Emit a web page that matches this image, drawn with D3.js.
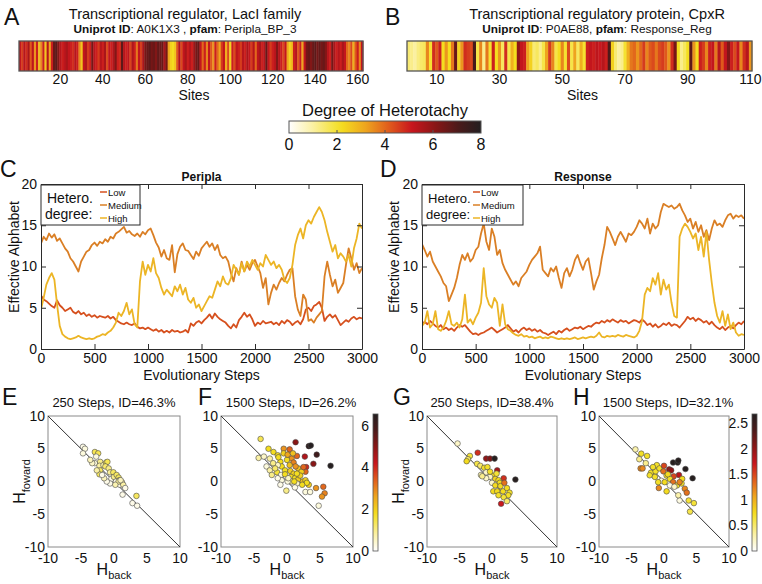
<!DOCTYPE html>
<html><head><meta charset="utf-8">
<script src="https://cdn.jsdelivr.net/npm/d3@7"></script>
<style>body{margin:0;background:#fff}svg{display:block;font-family:"Liberation Sans",Arial,Helvetica,sans-serif}</style>
</head><body><svg id="c" width="762" height="584"></svg>
<script>
// ---------------- DATA ----------------
const sitesA = [5.2,4.6,5.4,4.8,5.6,4.2,5.3,3.4,5.0,2.8, 3.6,5.0,2.6,5.4,3.2,5.0,6.6,6.8,6.2,5.4,
 5.0,5.3,5.6,5.2,5.0,4.8,5.4,5.0,3.6,2.6, 5.2,5.5,4.6,5.0,6.4,5.3,5.0,4.6,5.4,5.0,
 5.6,4.4,5.2,5.0,5.5,6.2,5.0,4.8,6.8,5.4, 5.0,5.3,4.5,5.5,5.0,3.8,5.2,4.6,5.6,6.4,
 6.6,6.8,6.4,6.6,6.2,6.7,6.5,6.6,5.6,6.4, 3.2,2.4,2.2,2.6,4.2,5.4,4.4,5.2,5.6,5.0,
 5.4,5.0,5.8,6.4,6.6,5.2,4.0,5.0,3.6,5.2, 4.2,3.4,5.0,4.0,3.2,4.6,5.2,3.0,4.4,2.4,
 5.0,4.4,5.3,5.0,4.6,5.4,5.0,5.6,5.2,4.6, 5.4,4.0,5.3,5.6,5.0,5.4,6.6,5.2,4.6,5.0,
 5.3,6.2,5.4,5.0,4.4,5.2,3.2,2.4,2.8,5.0, 5.4,4.2,5.0,3.2,5.2,6.4,6.6,6.2,6.6,6.8,
 6.4,6.7,6.4,6.6,6.2,5.4,5.0,6.4,5.6,5.0, 5.4,5.0,5.6,5.2,4.0,3.6,4.4,3.0,4.2,5.0, 3.6,5.2];
const sitesB = [1.4,1.2,1.0,1.3,1.5,1.6,3.6,2.0,4.8,4.2, 5.0,2.2,3.4,2.2,3.8,6.6,2.4,3.4,4.8,4.6,
 4.4,7.2,1.8,3.6,1.2,3.8,2.0,5.0,2.2,3.4, 1.6,4.8,1.8,3.0,2.2,6.0,5.2,5.0,3.2,2.4,
 1.4,1.6,1.2,1.8,3.2,4.6,3.6,1.8,2.2,3.6, 2.0,4.4,1.8,3.2,1.6,3.0,2.0,5.0,5.2,5.0,
 5.3,5.1,5.4,5.0,7.0,2.4,1.4,1.0,1.2,2.0, 3.0,3.8,4.0,3.4,4.0,4.6,3.6,4.2,4.4,3.8,
 4.4,4.6,4.2,3.4,4.8,6.4,2.2,1.2,1.6,2.2, 6.8,3.4,2.2,5.0,4.6,3.6,5.0,5.2,3.8,5.4,
 4.2,5.2,6.2,5.0,4.4,5.2,3.6,4.8,5.4,3.4];
const ticksA = [20,40,60,80,100,120,140,160];
const ticksB = [10,30,50,70,90,110];
const heatTicks = [0,2,4,6,8];

const seriesNames = ['Low','Medium','High'];
const periplaLow = [6.5,6.0,5.8,5.5,5.2,5.0,5.9,5.3, 5.0,4.6,4.8,5.0,4.5,4.3,4.6,4.2, 4.4,4.0,4.2,3.9,4.1,3.8,4.0,3.9,
 3.8,4.0,3.7,3.9,3.5,3.3,3.1,3.0, 3.2,3.0,2.9,3.1,2.7,2.5,2.6,2.4, 2.6,2.4,2.2,2.4,2.1,2.3,2.0,2.2,
 2.0,2.3,2.1,2.2,2.0,2.1,2.3,2.0, 3.1,2.8,3.2,3.4,3.1,3.5,3.8,4.2, 3.7,4.3,3.9,3.6,3.4,3.2,2.8,2.5,
 3.0,2.6,3.5,3.9,4.4,3.9,4.2,3.6, 2.8,3.2,3.0,3.4,3.1,3.2,3.3,3.0, 3.2,2.9,3.4,3.1,3.5,3.3,2.9,3.2,
 3.4,3.0,3.6,4.8,5.0,4.6,5.2,5.4, 5.7,5.0,3.4,3.9,4.2,3.8,4.1,3.5, 2.9,3.2,3.5,3.3,3.7,3.9,3.6,3.8, 3.7];
const periplaMedium = [12.8,13.6,13.2,14.0,13.5,13.9,13.1,13.4, 12.8,12.2,11.8,11.0,10.6,10.0,9.4,10.6,
 11.2,11.8,12.0,12.6,12.9,12.5,13.0,12.8, 13.3,13.0,13.6,13.4,14.0,14.2,14.5,14.8,
 14.1,14.3,13.9,13.7,14.0,13.6,14.2,13.9, 14.4,14.6,13.8,12.9,12.3,11.2,12.0,11.0,
 10.8,12.6,9.3,11.5,12.4,12.8,12.0,11.9, 11.4,10.9,11.8,11.3,12.2,12.6,13.0,12.4,
 12.8,12.0,12.6,11.4,11.0,11.2,10.6,9.2, 8.2,9.8,9.0,10.6,9.4,10.2,9.6,10.4,
 10.8,10.0,9.2,7.4,8.6,5.4,6.8,7.8, 7.2,8.0,8.6,8.2,9.0,9.6,9.8,6.4,
 4.8,4.0,6.6,6.0,3.4,3.6,3.2,3.8, 4.2,4.6,8.8,10.6,9.0,7.6,8.4,6.8, 7.4,8.0,10.2,12.2,11.0,9.6,10.4,9.2, 9.8];
const periplaHigh = [4.8,6.2,7.8,8.6,9.2,8.4,5.4,2.8, 1.8,1.5,1.3,1.2,1.3,1.4,1.6,1.4, 1.3,1.2,1.3,1.2,1.3,1.5,1.6,1.8,
 1.7,2.0,2.2,2.6,3.2,4.4,4.0,4.6, 5.6,4.2,4.8,3.0,2.6,8.2,10.6,9.0, 10.2,9.4,11.0,9.2,8.6,7.4,6.6,7.2,
 6.8,6.4,7.6,7.0,7.8,6.6,7.4,6.0, 5.6,6.2,5.0,5.4,4.6,5.2,5.8,6.4, 6.2,7.2,8.2,7.6,8.8,8.0,7.8,8.6,
 10.2,9.6,9.0,10.4,9.4,10.6,10.0,10.8, 10.2,9.6,10.4,10.0,11.4,10.8,10.2,10.6, 9.8,10.2,9.6,8.4,8.0,8.6,10.2,12.6,
 13.8,14.6,13.4,15.0,15.6,15.2,16.0,16.6, 17.2,16.6,15.6,14.2,13.0,11.8,12.6,11.0, 11.6,11.2,10.6,11.4,10.0,12.2,13.4,15.2, 14.6];
const responseLow = [3.0,3.3,3.0,3.4,3.1,2.8,2.6,2.9, 2.4,2.6,2.3,2.5,2.2,2.6,2.9,2.7, 2.9,2.5,2.1,1.8,1.9,1.7,1.9,2.0,
 2.2,2.4,2.6,2.3,2.0,2.2,2.4,2.6, 2.9,2.5,2.1,2.3,2.0,2.4,2.6,2.3, 2.5,2.2,2.4,2.1,2.3,2.0,1.9,1.7,
 1.9,2.1,1.8,2.2,2.0,2.3,2.5,2.2, 2.4,2.6,2.5,2.7,2.4,2.6,2.8,2.7, 3.0,3.2,3.1,3.4,3.2,3.5,3.3,3.6,
 3.4,3.2,3.5,3.3,3.4,3.1,3.3,3.5, 3.4,3.2,3.6,3.3,2.9,3.1,2.7,3.0, 2.6,2.8,3.1,2.9,3.2,2.8,3.0,2.9,
 2.6,3.0,3.4,3.9,3.6,3.8,3.4,3.7, 3.5,3.2,3.4,3.0,3.3,2.9,2.6,2.4, 2.7,2.3,2.6,2.8,2.5,2.9,3.2,3.0, 3.4];
const responseMedium = [12.7,12.0,11.2,11.8,10.6,10.0,9.4,8.8, 8.0,7.6,5.8,6.6,7.4,8.6,10.2,11.4,
 10.8,11.6,10.6,11.0,12.0,12.4,14.0,15.2, 13.0,12.0,14.6,13.6,11.4,12.0,10.4,9.6,
 9.0,8.4,7.8,8.2,7.6,8.6,9.0,9.4, 10.2,10.8,11.2,11.6,12.4,9.6,9.2,8.8,
 9.8,9.4,10.0,8.6,7.4,9.2,9.8,8.8, 9.6,10.8,11.4,10.4,9.6,10.6,11.0,9.2,
 7.2,8.2,9.0,11.0,12.6,14.8,14.2,13.4, 12.6,13.6,14.2,13.6,13.0,14.0,13.8,14.2,
 14.8,15.6,15.2,14.6,15.8,14.0,15.2,14.6, 15.0,16.6,17.6,17.4,17.2,17.4,17.0,17.2,
 17.6,16.8,16.2,15.4,15.8,14.6,15.4,14.2, 15.0,13.6,14.4,13.2,14.6,15.6,15.0,15.2, 14.8,15.6,16.2,16.4,15.8,16.2,16.0,16.2, 15.8];
const responseHigh = [2.8,3.2,4.6,2.6,3.0,4.6,2.4,2.2, 2.6,3.4,4.6,3.0,2.8,3.2,2.6,3.6, 6.6,3.2,3.6,3.0,3.8,4.4,5.6,9.8,
 6.4,5.4,5.0,6.2,5.6,2.8,5.4,3.0, 2.4,2.2,1.9,1.7,1.6,1.8,1.5,1.6, 1.4,1.5,1.3,1.4,1.5,1.3,1.4,1.3,
 1.5,1.4,1.3,1.2,1.3,1.2,1.3,1.2, 1.3,1.4,1.2,1.3,1.4,1.3,1.4,1.5, 1.4,1.6,2.0,1.5,1.4,1.6,1.5,1.6,
 1.5,1.7,1.6,1.5,1.7,1.6,1.5,1.4, 1.6,2.2,3.4,6.6,7.4,7.0,8.6,7.8, 9.2,6.6,8.4,7.2,7.8,5.6,4.0,3.8,
 13.6,14.6,15.2,14.8,14.2,13.4,14.0,12.0, 13.6,11.2,14.2,10.8,8.0,5.6,4.0,3.2, 4.6,2.8,4.2,2.4,3.2,2.0,1.6,1.8, 1.7];
const stepTicks = [0,500,1000,1500,2000,2500,3000];
const alphabetTicks = [0,5,10,15,20];

const eBack = [-4.7,-4.4,-4.7,-2.9,-2.4,-2.7,-2.9,-2.1,-2.2,-2.1,-2.2,-1.6,-1.2,-1.0,-1.3,-0.8,-0.6,-0.4,-0.6,-0.1,0.0,0.4,0.7,0.8,0.3,0.9,1.2,1.4,1.7,1.3,3.4,2.8,3.5,-1.1,-1.5,-1.8,-2.6,-3.3,-3.6,0.7,0.2,1.0];
const eFwd  = [5.3,5.0,4.3,4.5,4.3,3.8,2.8,3.0,2.4,1.7,1.1,2.5,2.9,3.0,2.3,2.0,1.4,0.4,-0.3,1.4,0.7,1.0,0.6,0.2,0.0,-0.5,-0.1,-0.5,-1.0,-2.0,-2.2,-3.3,-3.7,0.0,0.5,1.0,1.7,2.8,3.3,0.0,-0.5,0.2];
const eVal  = [0.2,0.3,0.3,1.4,1.4,0.3,0.3,1.0,0.8,1.3,1.3,0.8,1.4,1.4,1.2,1.0,0.9,0.2,0.2,1.3,1.0,1.3,1.3,1.0,0.2,0.2,0.8,0.8,0.2,0.2,1.3,0.2,0.2,0.2,0.6,0.2,0.8,0.5,0.6,0.9,0.7,0.6];

const fBack = [-4.0,-2.8,-2.05,-4.3,-3.5,-2.6,-1.4,-0.5,-0.5,0.4,1.3,3.3,3.6,4.5,6.6,4.0,2.7,1.5,0.7,2.9,2.8,1.0,0.4,0.0,-1.0,-0.8,-1.4,-2.1,-3.1,-2.6,-2.3,-1.5,-0.9,-0.3,0.5,1.0,0.6,1.2,1.7,2.4,2.8,3.3,3.0,2.3,1.5,0.7,0.1,-0.8,-1.0,-0.1,1.2,2.8,3.5,4.8,4.4,5.5,5.7,5.3,1.7,2.2,1.3,-0.3,0.2,-1.4,-1.8,-1.3,0.1,0.9,2.5,2.0,1.1,1.5];
const fFwd  = [6.5,5.0,4.5,3.6,3.8,3.5,4.0,5.0,4.3,4.9,6.0,5.4,5.5,4.1,2.4,2.7,3.8,3.9,3.5,2.2,1.5,2.9,2.5,3.3,3.0,2.3,2.5,2.8,2.3,1.7,1.0,1.4,1.0,1.7,1.6,1.2,0.7,0.5,0.3,0.0,0.2,-0.5,-0.2,-0.5,-0.3,0.0,0.0,0.2,-0.5,-1.4,-0.9,-1.6,-1.6,-3.7,-1.0,-0.8,-1.8,-2.3,2.0,1.5,2.3,1.1,0.5,0.5,2.0,3.7,4.1,4.3,2.2,0.9,0.0,1.2];
const fVal  = [1.4,1.8,1.8,0.8,0.5,0.8,1.8,2.8,2.0,3.3,5.0,6.3,6.5,6.0,6.5,5.0,4.5,3.3,2.8,4.0,3.3,3.0,2.2,1.8,1.8,1.8,0.5,1.0,0.3,0.8,1.0,1.6,0.3,1.8,2.0,2.0,1.8,1.8,2.0,2.2,2.0,2.0,1.8,1.8,0.5,1.0,0.3,0.3,0.2,1.0,0.2,0.3,0.3,0.3,2.8,3.3,3.0,2.8,2.2,2.0,2.8,1.8,0.5,0.2,1.2,1.8,2.6,2.2,3.3,2.0,1.8,1.8];

const gBack = [-5.3,-3.4,-3.7,-3.9,-2.2,-0.9,-0.3,0.4,0.8,1.8,3.6,1.4,-2.3,-1.8,-1.2,-0.7,-0.9,-1.7,0.3,0.5,1.0,1.2,0.0,0.5,1.3,0.2,0.8,1.7,2.3,2.7,2.5,1.8,2.3,1.0,-0.3,-0.9,-1.5,1.9,-0.3,0.7];
const gFwd  = [5.8,3.9,3.4,3.1,4.4,3.5,3.5,3.5,1.7,0.5,0.3,-3.4,2.7,2.4,2.1,2.2,1.4,1.0,0.9,0.4,0.2,-0.2,-0.2,-0.6,-0.7,-1.5,-1.5,-1.5,-1.0,-1.7,-2.1,-2.4,-3.0,-2.1,0.7,0.5,0.8,-0.2,1.5,1.2];
const gVal  = [0.2,0.65,0.5,0.75,1.6,2.0,2.1,2.65,1.9,1.6,2.65,1.7,0.6,0.5,0.7,0.7,0.2,0.3,0.75,0.8,0.75,0.75,0.2,0.75,0.75,0.75,0.75,0.75,0.75,0.7,0.7,0.65,0.5,0.7,0.2,0.2,0.4,1.3,0.7,0.65];

const hBack = [-4.4,-3.5,-2.6,-3.8,-3.6,-3.3,-2.0,-2.2,-1.1,-1.3,-0.7,0.0,-0.1,-0.8,0.4,0.8,1.1,1.4,2.1,2.2,3.3,4.4,2.3,1.5,0.4,0.9,1.4,2.0,2.7,3.2,3.5,3.8,4.6,4.0,2.4,2.2,-0.4,-0.9,-1.4,0.9,1.6,2.8,2.4,-1.7,-2.8,0.6,0.1];
const hFwd  = [4.9,4.25,3.9,3.4,2.0,2.0,1.35,0.95,2.5,1.55,2.0,2.4,1.55,-1.0,-1.5,1.85,1.7,2.9,2.9,3.2,1.9,0.5,1.0,0.8,0.9,0.4,-0.1,-0.6,-0.3,-1.1,-1.7,-2.9,-3.3,-4.6,-2.9,-2.1,0.1,-0.1,0.7,-0.6,-0.8,0.4,-0.1,2.2,2.8,1.1,-0.1];
const hVal  = [0.3,0.7,0.7,0.4,1.2,1.2,0.7,0.7,0.7,0.7,0.7,1.5,1.3,1.2,0.75,2.0,2.0,2.65,2.65,2.65,2.65,2.65,1.8,1.5,0.7,0.7,1.3,0.7,0.7,1.2,1.3,0.65,0.65,0.6,0.1,0.3,0.1,0.7,0.7,0.1,0.2,0.75,1.2,0.7,0.4,0.75,0.75];
const hTicks = [-10,-5,0,5,10];
const fBarTicks = [0,2,4,6];
const hBarTicks = [0,0.5,1,1.5,2,2.5];

// ---------------- DRAWING ----------------
const svg = d3.select('#c');
const heatStops = ['#ffffff','#fbf1a6','#f4df1f','#eea41e','#e05c1c','#c8161e','#8a1616','#4c1a1a','#231f20'];
const heatScale = d3.scaleLinear().domain([0,0.12,0.27,0.4,0.52,0.64,0.76,0.88,1]).range(heatStops)
  .interpolate(d3.interpolateRgb).clamp(true);
const heatColor = t => heatScale(t);
const fmt = d => String(d);

function txt(g, x, y, s, size, anchor, weight) {
  return g.append('text').attr('x', x).attr('y', y).attr('text-anchor', anchor || 'start')
    .style('font-size', size + 'px').style('font-weight', weight || 'normal').attr('fill', '#111').text(s);
}

// Panel letters
[['A',4,25],['B',385,25],['C',0,177],['D',380,177],['E',2,405],['F',198,405],['G',393,405],['H',573,405]]
  .forEach(([l,x,y]) => txt(svg, x, y, l, 23));

function heatPanel(vals, x0, x1, ticks, title, uni, pfam, tcx) {
  const g = svg.append('g');
  const y0 = 41, y1 = 71;
  const x = d3.scaleLinear().domain([0.5, vals.length + 0.5]).range([x0, x1]);
  g.selectAll('rect.cell').data(vals).join('rect').attr('class', 'cell')
    .attr('x', (d, i) => x(i + 0.5)).attr('y', y0)
    .attr('width', (d, i) => x(i + 1.5) - x(i + 0.5) + 0.4).attr('height', y1 - y0)
    .attr('fill', d => heatColor(d / 8));
  g.append('rect').attr('x', x0).attr('y', y0).attr('width', x1 - x0).attr('height', y1 - y0)
    .attr('fill', 'none').attr('stroke', '#555').attr('stroke-width', 1.3);
  g.selectAll('text.tk').data(ticks).join('text').attr('class', 'tk')
    .attr('x', d => x(d)).attr('y', 84).attr('text-anchor', 'middle').style('font-size', '14px').attr('fill', '#111').text(fmt);
  txt(g, (x0 + x1) / 2 + 3, 100, 'Sites', 14, 'middle');
  txt(g, tcx, 18.5, title, 14.5, 'middle');
  const t = g.append('text').attr('x', tcx).attr('y', 32.5).attr('text-anchor', 'middle').style('font-size', '11.8px').attr('fill', '#111');
  t.append('tspan').style('font-weight', 'bold').text('Uniprot ID');
  t.append('tspan').text(': ' + uni + ', ');
  t.append('tspan').style('font-weight', 'bold').text('pfam');
  t.append('tspan').text(': ' + pfam);
}
heatPanel(sitesA, 19, 363, ticksA, 'Transcriptional regulator, LacI family', 'A0K1X3 ', 'Peripla_BP_3', 185);
heatPanel(sitesB, 407, 752, ticksB, 'Transcriptional regulatory protein, CpxR', 'P0AE88', 'Response_Reg', 597);

// heat colorbar
(function () {
  const defs = svg.append('defs');
  const gr = defs.append('linearGradient').attr('id', 'hgrad').attr('x1', '0%').attr('x2', '100%');
  d3.range(0, 1.0001, 0.04).forEach(t => gr.append('stop').attr('offset', (t * 100) + '%').attr('stop-color', heatColor(t)));
  const gv = defs.append('linearGradient').attr('id', 'vgrad').attr('x1', '0%').attr('x2', '0%').attr('y1', '100%').attr('y2', '0%');
  d3.range(0, 1.0001, 0.04).forEach(t => gv.append('stop').attr('offset', (t * 100) + '%').attr('stop-color', heatColor(t)));
  const x = d3.scaleLinear().domain([0, 8]).range([289, 481]);
  svg.append('rect').attr('x', 289).attr('y', 121).attr('width', 192).attr('height', 12)
    .attr('fill', 'url(#hgrad)').attr('stroke', '#555').attr('stroke-width', 1);
  svg.selectAll('line.hbt').data(heatTicks.slice(1, -1)).join('line').attr('class', 'hbt')
    .attr('x1', d => x(d)).attr('x2', d => x(d)).attr('y1', 133).attr('y2', 130).attr('stroke', '#555');
  svg.selectAll('text.hbl').data(heatTicks).join('text').attr('class', 'hbl')
    .attr('x', d => x(d)).attr('y', 150).attr('text-anchor', 'middle').style('font-size', '16px').attr('fill', '#111').text(fmt);
  txt(svg, 385, 116, 'Degree of Heterotachy', 16.5, 'middle');
})();

const lineColors = ['#d6501e', '#da7f25', '#ecb525'];
function linePanel(x0, x1, seriesList, title, ylx, leg) {
  const y0 = 184, y1 = 349;
  const g = svg.append('g');
  const x = d3.scaleLinear().domain([0, 3000]).range([x0, x1]);
  const y = d3.scaleLinear().domain([0, 20]).range([y1, y0]);
  const clipId = 'clip' + x0;
  g.append('clipPath').attr('id', clipId).append('rect').attr('x', x0).attr('y', y0).attr('width', x1 - x0).attr('height', y1 - y0);
  seriesList.forEach((s, k) => {
    const n = s.length;
    const line = d3.line().x((d, i) => x(i * 3000 / (n - 1))).y(d => y(d));
    g.append('path').attr('d', line(s)).attr('fill', 'none').attr('stroke', lineColors[k])
      .attr('stroke-width', 1.8).attr('stroke-linejoin', 'round').attr('clip-path', `url(#${clipId})`);
  });
  const ax = (a, tr) => g.append('g').attr('transform', tr).call(a)
    .call(s => s.selectAll('path.domain').attr('stroke', '#2b2b2b'))
    .call(s => s.selectAll('line').attr('stroke', '#2b2b2b'))
    .call(s => s.selectAll('text').style('font-size', '14px').attr('fill', '#111').style('font-family', 'inherit'));
  ax(d3.axisBottom(x).tickValues(stepTicks).tickFormat(fmt).tickSize(-5).tickSizeOuter(0).tickPadding(4), `translate(0,${y1})`);
  ax(d3.axisTop(x).tickValues(stepTicks).tickFormat('').tickSize(-5).tickSizeOuter(0), `translate(0,${y0})`);
  ax(d3.axisLeft(y).tickValues(alphabetTicks).tickFormat(fmt).tickSize(-5).tickSizeOuter(0).tickPadding(4), `translate(${x0},0)`);
  ax(d3.axisRight(y).tickValues(alphabetTicks).tickFormat('').tickSize(-5).tickSizeOuter(0), `translate(${x1},0)`);
  txt(g, (x0 + x1) / 2, 181, title, 12, 'middle', 'bold');
  txt(g, (x0 + x1) / 2, 379.5, 'Evolutionary Steps', 14, 'middle');
  txt(g, 0, 0, 'Effective Alphabet', 14, 'middle').attr('transform', `translate(${ylx},257) rotate(-90)`);
  // legend
  const lx = leg.x, lw = leg.w;
  g.append('rect').attr('x', lx).attr('y', 185).attr('width', lw).attr('height', 40)
    .attr('fill', '#fff').attr('stroke', '#2b2b2b').attr('stroke-width', 1);
  txt(g, lx + 6, 203, 'Hetero.', leg.fs, 'start');
  txt(g, lx + 4, 219, 'degree:', leg.fs, 'start');
  const ly = [192, 205, 218];
  seriesNames.forEach((nm, k) => {
    g.append('line').attr('x1', lx + leg.lo).attr('x2', lx + leg.lo + 7).attr('y1', ly[k]).attr('y2', ly[k])
      .attr('stroke', lineColors[k]).attr('stroke-width', 1.5);
    txt(g, lx + leg.lo + 8, ly[k] + 3.5, nm, 9.5, 'start');
  });
}
linePanel(41, 362, [periplaLow, periplaMedium, periplaHigh], 'Peripla', 19, {x: 41, w: 99, lo: 59, fs: 14});
linePanel(422, 744, [responseLow, responseMedium, responseHigh], 'Response', 399, {x: 422, w: 101, lo: 51, fs: 13});

function scatterPanel(x0, x1, xs, ys, vals, vmax, title, ylab, bar) {
  const y0 = 416, y1 = 547;
  const g = svg.append('g');
  const x = d3.scaleLinear().domain([-10, 10]).range([x0, x1]);
  const y = d3.scaleLinear().domain([-10, 10]).range([y1, y0]);
  g.append('rect').attr('x', x0).attr('y', y0).attr('width', x1 - x0).attr('height', y1 - y0)
    .attr('fill', '#fff').attr('stroke', '#8a8a8a').attr('stroke-width', 1);
  g.append('line').attr('x1', x(-10)).attr('y1', y(10)).attr('x2', x(10)).attr('y2', y(-10))
    .attr('stroke', '#333').attr('stroke-width', 1);
  const pts = xs.map((v, i) => ({x: v, y: ys[i], v: vals[i]}));
  g.selectAll('circle').data(pts).join('circle')
    .attr('cx', d => x(d.x)).attr('cy', d => y(d.y)).attr('r', 2.8)
    .attr('fill', d => heatColor(d.v / vmax)).attr('stroke', '#4a4a4a').attr('stroke-width', 0.6);
  g.selectAll('text.xt').data(hTicks).join('text').attr('class', 'xt')
    .attr('x', d => x(d)).attr('y', 563).attr('text-anchor', 'middle').style('font-size', '14px').attr('fill', '#111').text(fmt);
  g.selectAll('text.yt').data(hTicks).join('text').attr('class', 'yt')
    .attr('x', x0 - 3).attr('y', d => y(d) + 4.5).attr('text-anchor', 'end').style('font-size', '14px').attr('fill', '#111').text(fmt);
  txt(g, (x0 + x1) / 2 + (bar ? 4 : 0), 407, title, 13, 'middle');
  const xl = g.append('text').attr('x', (x0 + x1) / 2).attr('y', 575).attr('text-anchor', 'middle').attr('fill', '#111');
  xl.append('tspan').style('font-size', '16px').text('H');
  xl.append('tspan').style('font-size', '11px').attr('dy', 4).text('back');
  if (ylab) {
    const yl = g.append('text').attr('transform', `translate(${x0 - 23},${(y0 + y1) / 2}) rotate(-90)`)
      .attr('text-anchor', 'middle').attr('fill', '#111');
    yl.append('tspan').style('font-size', '16px').text('H');
    yl.append('tspan').style('font-size', '11px').attr('dy', 5).text('foward');
  }
  if (bar) {
    const by = d3.scaleLinear().domain([0, vmax]).range([551, 414]);
    g.append('rect').attr('x', bar.x).attr('y', 414).attr('width', 5).attr('height', 137)
      .attr('fill', 'url(#vgrad)').attr('stroke', '#555').attr('stroke-width', 0.8);
    g.selectAll('text.bt').data(bar.ticks).join('text').attr('class', 'bt')
      .attr('x', bar.x - 4).attr('y', d => by(d) + 5).attr('text-anchor', 'end')
      .style('font-size', '14px').attr('fill', '#111').text(fmt);
  }
}
scatterPanel(48, 180, eBack, eFwd, eVal, 6.56, '250 Steps, ID=46.3%', true, null);
scatterPanel(221, 353, fBack, fFwd, fVal, 6.56, '1500 Steps, ID=26.2%', false, {x: 373, ticks: fBarTicks});
scatterPanel(427, 557, gBack, gFwd, gVal, 2.68, '250 Steps, ID=38.4%', true, null);
scatterPanel(599, 729, hBack, hFwd, hVal, 2.68, '1500 Steps, ID=32.1%', false, {x: 752, ticks: hBarTicks});
</script></body></html>
